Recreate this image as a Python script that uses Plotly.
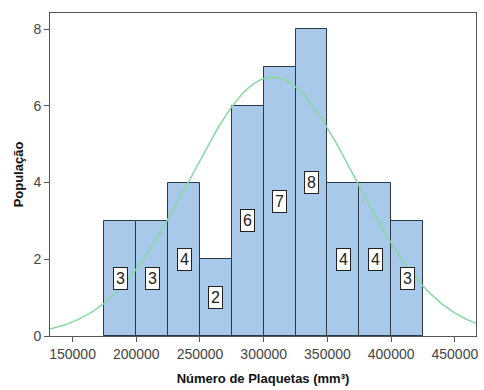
import numpy as np
import plotly.graph_objects as go

# Data
bin_left = [175000, 200000, 225000, 250000, 275000, 300000, 325000, 350000, 375000, 400000]
bin_width = 25000
counts = [3, 3, 4, 2, 6, 7, 8, 4, 4, 3]
fit_mean = 307000
fit_sd = 65000
x_ticks = [150000, 200000, 250000, 300000, 350000, 400000, 450000]
y_ticks = [0, 2, 4, 6, 8]
x_range = [132300, 466600]
y_range = [0, 8.42]

centers = [b + bin_width / 2 for b in bin_left]
n_total = sum(counts)

fig = go.Figure()
fig.add_trace(go.Bar(
    x=centers, y=counts, width=[bin_width] * len(counts),
    marker=dict(color="#a9c9ea", line=dict(color="#2b3a4a", width=1)),
    hoverinfo="skip", showlegend=False,
))

xs = np.linspace(x_range[0], x_range[1], 300)
ys = n_total * bin_width / (fit_sd * np.sqrt(2 * np.pi)) * np.exp(-0.5 * ((xs - fit_mean) / fit_sd) ** 2)
fig.add_trace(go.Scatter(
    x=xs, y=ys, mode="lines", line=dict(color="#86d9a0", width=1.5),
    hoverinfo="skip", showlegend=False,
))

for c, n in zip(centers, counts):
    fig.add_annotation(
        x=c, y=n / 2, text=str(n), showarrow=False,
        font=dict(family="Liberation Sans, Arial", size=16, color="#222"),
        bgcolor="white", bordercolor="#222", borderwidth=1, borderpad=2,
    )

axis_common = dict(
    showline=True, mirror=True, linecolor="#555", linewidth=1,
    ticks="outside", ticklen=5, tickcolor="#555",
    showgrid=False, zeroline=False,
    tickfont=dict(family="Liberation Sans, Arial", size=14, color="#444"),
)

fig.update_xaxes(
    range=x_range, tickvals=x_ticks, ticktext=[str(v) for v in x_ticks],
    title=dict(text="Número de Plaquetas (mm³)", standoff=13,
               font=dict(family="Liberation Sans, Arial", size=13, color="#111", weight="bold")),
    **axis_common,
)
fig.update_yaxes(
    range=y_range, tickvals=y_ticks, ticktext=[str(v) for v in y_ticks],
    title=dict(text="População", standoff=6,
               font=dict(family="Liberation Sans, Arial", size=13, color="#111", weight="bold")),
    **axis_common,
)

fig.update_layout(
    width=484, height=390,
    margin=dict(l=50, r=6, t=13, b=53),
    plot_bgcolor="white", paper_bgcolor="white",
    bargap=0,
)

fig.write_html("out.html")
